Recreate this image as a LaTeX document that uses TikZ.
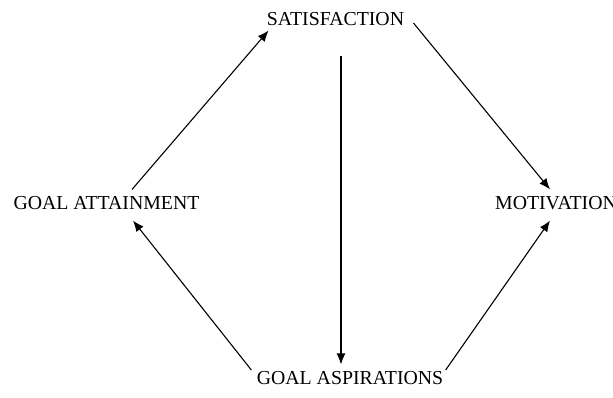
\documentclass[tikz,border=0pt]{standalone}
\usepackage{fontspec}
\setmainfont{Liberation Serif}
\usetikzlibrary{arrows.meta,calc}
\tikzset{
  lbl/.style={inner sep=0pt, font=\fontsize{9.9}{12}\selectfont},
  link/.style={line width=0.55pt, -{Latex[length=5.5pt,width=4.5pt]}}
}
\begin{document}
\begin{tikzpicture}[x=0.5pt,y=-0.5pt]
        \useasboundingbox (0,0) rectangle (613,397);
        % the four labels
        \node[lbl] (sat) at (335.5,19){SATISFACTION};
        \node[lbl] (att) at (106.5,203.5){GOAL ATTAINMENT};
        \node[lbl] (mot) at (556,203.5){MOTIVATION};
        \node[lbl] (asp) at (350,378.5){GOAL ASPIRATIONS};

        \draw[link] ($(att.north)+(25.5,-7)$) -- ($(sat.south west)+(2,4.5)$);
        \draw[link] ($(sat.east)+(9,4)$) -- ($(mot.north)+(-6,-7)$);
        \draw[link] ($(sat.south)+(5.5,30)$) -- ($(asp.north)+(-9,-7)$);
        \draw[link] ($(asp.west)+(-5,-8.5)$) -- ($(att.south)+(26.5,10)$);
        \draw[link] ($(asp.east)+(2,-8.5)$) -- ($(mot.south)+(-6,10)$);
\end{tikzpicture}
\end{document}
